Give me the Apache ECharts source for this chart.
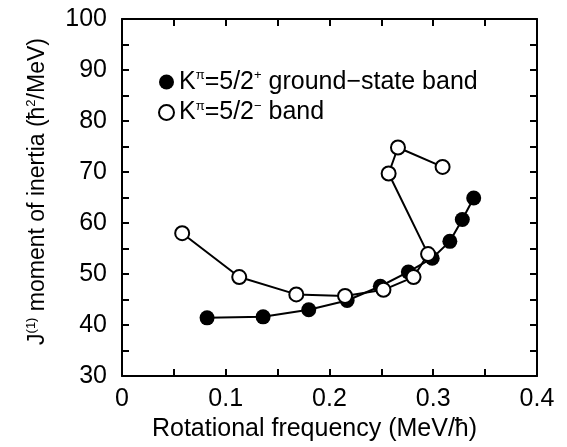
<!DOCTYPE html>
<html lang="en">
<head>
    <meta charset="UTF-8">
    <title>Moment of inertia vs rotational frequency</title>
    <script src="https://cdn.jsdelivr.net/npm/echarts@6.0.0/dist/echarts.min.js"></script>
    <style>
        body { margin: 0; background: #fff; }
    </style>
</head>
<body>
    <div id="main" style="width: 567px; height: 447px;"></div>

    <script>
        // Kπ=5/2+ ground-state band
        var gsFreq = [0.082, 0.136, 0.180, 0.217, 0.249, 0.276, 0.299, 0.316, 0.328, 0.339];
        var gsJ = [41.4, 41.6, 43.0, 44.8, 47.6, 50.4, 53.1, 56.4, 60.7, 64.9];

        // Kπ=5/2- band
        var nbFreq = [0.058, 0.113, 0.168, 0.215, 0.252, 0.281, 0.295, 0.257, 0.266, 0.309];
        var nbJ = [58.0, 49.4, 46.0, 45.7, 46.9, 49.4, 53.9, 69.7, 74.8, 71.0];

        // axis ranges
        var xRange = [0, 0.4, 0.1];
        var yRange = [30, 100, 10];

        var FONT = "'Liberation Sans', Arial, Helvetica, sans-serif";

        function pairs(xs, ys) {
            return xs.map(function (x, i) { return [x, ys[i]]; });
        }

        var chart = echarts.init(document.getElementById('main'));

        var tickStyle = {
            axisLine: { show: true, onZero: false, lineStyle: { color: '#000', width: 2 } },
            axisTick: { show: true, inside: true, length: 7, lineStyle: { color: '#000', width: 2 } },
            minorTick: { show: true, splitNumber: 2, length: 7, lineStyle: { color: '#000', width: 2 } },
            splitLine: { show: false }
        };

        function axis(base, extra) {
            return Object.assign({}, tickStyle, base, extra);
        }

        var legendRich = {
            n: { fontSize: 25, fontFamily: FONT, color: '#000' },
            s: { fontSize: 13, fontFamily: FONT, color: '#000', padding: [0, 0, 13, 0] }
        };
        var nameRich = {
            n: { fontSize: 23, fontFamily: FONT, color: '#000' },
            s: { fontSize: 13, fontFamily: FONT, color: '#000', padding: [0, 0, 12, 0] }
        };

        var option = {
            animation: false,
            backgroundColor: '#fff',
            grid: { left: 122, right: 30, top: 19, bottom: 71 },
            legend: {
                orient: 'vertical',
                left: 153,
                top: 64,
                itemWidth: 15,
                itemHeight: 15,
                itemGap: 5,
                icon: 'circle',
                data: ['gs', 'nb'],
                formatter: function (name) {
                    if (name === 'gs') {
                        return '{n|K}{s|π}{n|=5/2}{s|+}{n| ground\u2212state band}';
                    }
                    return '{n|K}{s|π}{n|=5/2}{s|\u2212}{n| band}';
                },
                textStyle: { rich: legendRich }
            },
            xAxis: [
                axis({
                    type: 'value', position: 'bottom',
                    min: xRange[0], max: xRange[1], interval: xRange[2],
                    name: 'Rotational frequency (MeV/\u0127)',
                    nameLocation: 'middle',
                    nameGap: 36,
                    nameTextStyle: { fontSize: 25, fontFamily: FONT, color: '#000', padding: [0, 30, 0, 0] },
                    axisLabel: { fontSize: 25, fontFamily: FONT, color: '#000', margin: 11 }
                }),
                axis({
                    type: 'value', position: 'top',
                    min: xRange[0], max: xRange[1], interval: xRange[2],
                    axisLabel: { show: false }
                })
            ],
            yAxis: [
                axis({
                    type: 'value', position: 'left',
                    min: yRange[0], max: yRange[1], interval: yRange[2],
                    name: '{n|J}{s|(1)}{n| moment of inertia (\u0127}{s|2}{n|/MeV)}',
                    nameLocation: 'middle',
                    nameRotate: 90,
                    nameGap: 72,
                    nameTextStyle: { rich: nameRich, padding: [0, 0, 0, 12] },
                    axisLabel: { fontSize: 25, fontFamily: FONT, color: '#000', margin: 15 }
                }),
                axis({
                    type: 'value', position: 'right',
                    min: yRange[0], max: yRange[1], interval: yRange[2],
                    axisLabel: { show: false }
                })
            ],
            series: [
                {
                    name: 'gs',
                    type: 'line',
                    data: pairs(gsFreq, gsJ),
                    symbol: 'circle',
                    symbolSize: 15,
                    itemStyle: { color: '#000' },
                    lineStyle: { color: '#000', width: 2 },
                    z: 2
                },
                {
                    name: 'nb',
                    type: 'line',
                    data: pairs(nbFreq, nbJ),
                    symbol: 'circle',
                    symbolSize: 14,
                    itemStyle: { color: '#fff', borderColor: '#000', borderWidth: 2 },
                    lineStyle: { color: '#000', width: 2 },
                    z: 3
                }
            ]
        };

        chart.setOption(option);
    </script>
</body>
</html>
